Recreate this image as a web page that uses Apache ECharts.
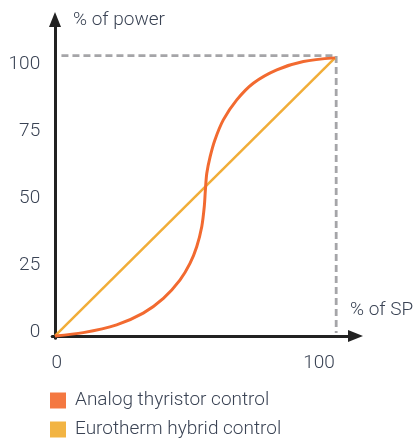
<!DOCTYPE html>
<html>
<head>
<meta charset="utf-8">
<script src="https://cdn.jsdelivr.net/npm/echarts@6/dist/echarts.min.js"></script>
<style>html,body{margin:0;padding:0;background:#fff}#c{width:413px;height:440px}</style>
</head>
<body>
<div id="c"></div>
<script>
// ---- data ----
var seriesNames = ['Analog thyristor control', 'Eurotherm hybrid control'];
var analogThyristor = [[0,0],[10.1,1.2],[22,4],[31.5,8.2],[38.7,13.5],[44.6,20.1],[48.2,26.1],[50.6,32.1],[52.4,39.3],[53.3,46.5],[53.7,52.5],[54.2,58.5],[55.4,64.5],[57.1,70.5],[60.1,77.7],[64.9,84.9],[70.8,90.9],[79.2,95.7],[88.7,98.7],[100,100]];
var eurothermHybrid = [[0,0],[100,100]];
var limitGuide = [[2.3,100.8],[100.4,100.8],[100.4,1.1]];
var xTickLabels = [0, 100];
var yTickLabels = [0, 25, 50, 75, 100];
var xAxisName = '% of SP';
var yAxisName = '% of power';

var FONT = 'Roboto, "Liberation Sans", sans-serif';
var FS = 19;
var TXT = '#3a4354';
var ORANGE = '#f26a30', ORANGE_KEY = '#f47841';
var YELLOW = '#f1ad38', YELLOW_KEY = '#f2b443';

function txt(extra) {
  var o = {fontFamily: FONT, fontSize: FS, fontWeight: 300, color: TXT};
  for (var k in extra) o[k] = extra[k];
  return o;
}

var chart = echarts.init(document.getElementById('c'), null, {renderer: 'canvas'});
chart.setOption({
  animation: false,
  title: {text: xAxisName, left: 350, top: 301, padding: 0, textStyle: txt({})},
  grid: {left: 52.2, right: 57.5, top: 19.5, bottom: 101.8, containLabel: false},
  xAxis: [{
    type: 'value', min: -1, max: 107.3,
    axisLine: {show: true, symbol: ['none','triangle'], symbolSize: [12,15], lineStyle: {color: '#222', width: 3}},
    axisTick: {show: false}, axisLabel: {show: false}, splitLine: {show: false}
  }, {
    type: 'value', min: -1.716, max: 113.9, position: 'bottom',
    axisLine: {show: false}, axisTick: {show: false}, splitLine: {show: false},
    axisLabel: txt({show: true, customValues: xTickLabels, margin: 16})
  }],
  yAxis: [{
    type: 'value', min: -0.8, max: 113.8,
    name: yAxisName, nameLocation: 'end', nameGap: -1,
    nameTextStyle: txt({align: 'left', verticalAlign: 'middle', padding: [0,0,0,18]}),
    axisLine: {show: true, symbol: ['none','triangle'], symbolSize: [12,15], lineStyle: {color: '#222', width: 3}},
    axisTick: {show: false}, axisLabel: {show: false}, splitLine: {show: false}
  }, {
    type: 'value', min: -2.31, max: 116.6, position: 'left',
    axisLine: {show: false}, axisTick: {show: false}, splitLine: {show: false},
    axisLabel: txt({show: true, customValues: yTickLabels, margin: 12})
  }],
  legend: [{
    orient: 'vertical', left: 50, top: 391, itemWidth: 16, itemHeight: 16, icon: 'rect', padding: 0,
    textStyle: txt({padding: [0,0,0,4]}),
    data: [{name: seriesNames[0], itemStyle: {color: ORANGE_KEY}}]
  }, {
    orient: 'vertical', left: 50, top: 420, itemWidth: 16, itemHeight: 16, icon: 'rect', padding: 0,
    textStyle: txt({padding: [0,0,0,4]}),
    data: [{name: seriesNames[1], itemStyle: {color: YELLOW_KEY}}]
  }],
  series: [{
    type: 'line', data: limitGuide, showSymbol: false, silent: true,
    lineStyle: {color: '#a5a5a8', width: 2.8, type: [7,4]}, z: 1
  }, {
    name: seriesNames[1], type: 'line', data: eurothermHybrid, showSymbol: false,
    itemStyle: {color: YELLOW_KEY}, lineStyle: {color: YELLOW, width: 2.5}, z: 2
  }, {
    name: seriesNames[0], type: 'line', data: analogThyristor, showSymbol: false, smooth: 0.3,
    itemStyle: {color: ORANGE_KEY}, lineStyle: {color: ORANGE, width: 3}, z: 3
  }]
});
</script>
</body>
</html>
